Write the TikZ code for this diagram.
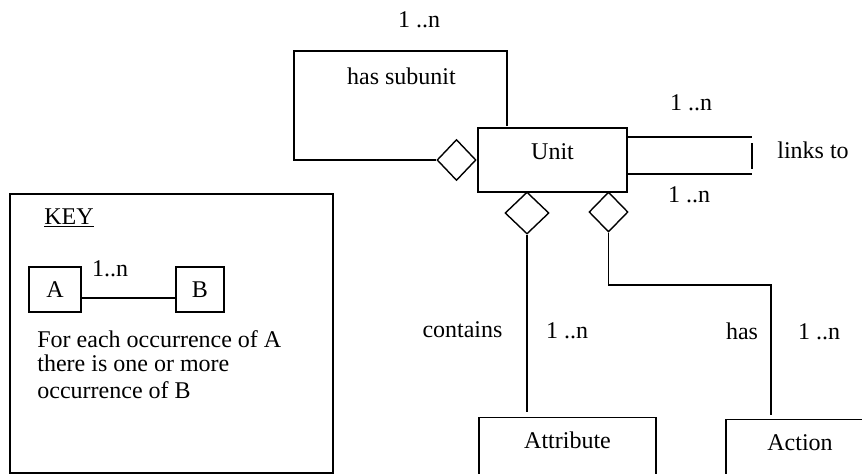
\documentclass[tikz,border=0pt]{standalone}
\usepackage{fontspec}
\setmainfont{Liberation Serif}
\usetikzlibrary{shapes.geometric}
\begin{document}
\begin{tikzpicture}[x=0.5pt,y=-0.5pt,
  font=\fontsize{12}{14}\selectfont,
  box/.style={draw, line width=0.7pt, inner xsep=0pt},
  rel/.style={draw, diamond, line width=0.7pt, inner sep=0pt},
  conn/.style={line width=0.9pt},
  lbl/.style={anchor=base, inner sep=0pt}]
\useasboundingbox (0,0) rectangle (862,473);
\clip (0,0) rectangle (862,473);

% main entities
\node[box, minimum width=74.5pt, text height=8pt, text depth=9pt, inner ysep=7.5pt] (unit) at (552.5,160) {Unit};
\node[box, anchor=north, minimum width=88.5pt, text height=8.2pt, text depth=20pt, inner ysep=7.3pt] (attr) at (567.5,417) {Attribute};
\node[box, anchor=north, minimum width=74pt, text height=8.2pt, text depth=20pt, inner ysep=7.3pt] (act) at (800,419) {Action};

% diamonds
\node[rel, minimum width=19.5pt, minimum height=20.5pt] (dsub) at (456.5,160) {};
\node[rel, minimum width=22pt, minimum height=21pt] (d1) at (527,213) {};
\node[rel, minimum width=19.5pt, minimum height=20pt] (d2) at (608.5,212) {};

% has subunit loop
\coordinate (lt) at (507,126);
\draw[conn] (lt) |- (294,51) |- (dsub.west);

% links to
\coordinate (l1) at (752,137);
\coordinate (l2) at (752,174);
\coordinate (lv1) at (752,143);
\coordinate (lv2) at (752,169);
\draw[conn] (l1 -| unit.east) -- (l1);
\draw[conn] (l2 -| unit.east) -- (l2);
\draw[conn] (lv1) -- (lv2);

% contains
\draw[conn] (d1.south) -- ([yshift=2.5pt]d1.south |- attr.north);

% has
\coordinate (hc) at (771,285);
\draw[conn] (d2.south) |- (hc) -- ([yshift=2pt]hc |- act.north);

% labels
\node[lbl] (m0) at (419,27) {1 ..n};
\node[lbl] (hs) at (401.5,84) {has subunit};
\node[lbl] (m1) at (691,110) {1 ..n};
\node[lbl] (lk) at (813,158) {links to};
\node[lbl] (m2) at (689,202) {1 ..n};
\node[lbl] (ct) at (462.5,337) {contains};
\node[lbl] (m3) at (567,338) {1 ..n};
\node[lbl] (hv) at (742,339) {has};
\node[lbl] (m4) at (819,339) {1 ..n};

% key
\node[draw, line width=0.8pt, anchor=north west, minimum width=161.5pt, minimum height=139.5pt, inner sep=0pt] (keybox) at (9,193) {};
\node[lbl] (keyt) at (69,224) {\underline{KEY}};
\node[box, minimum width=26pt, text height=8pt, text depth=0.5pt, inner ysep=7pt] (A) at (55,289.5) {A};
\node[box, minimum width=24pt, text height=8pt, text depth=0.5pt, inner ysep=7pt] (B) at (200,289.5) {B};
\draw[conn] ([yshift=-4.25pt]A.east) -- ([yshift=-4.25pt]B.west);
\node[lbl] (km) at (110,276) {1..n};
\node[lbl, anchor=base west] (k1) at (37,347) {For each occurrence of A};
\node[lbl, anchor=base west] (k2) at (37,371) {there is one or more};
\node[lbl, anchor=base west] (k3) at (37,398) {occurrence of B};
\end{tikzpicture}
\end{document}
